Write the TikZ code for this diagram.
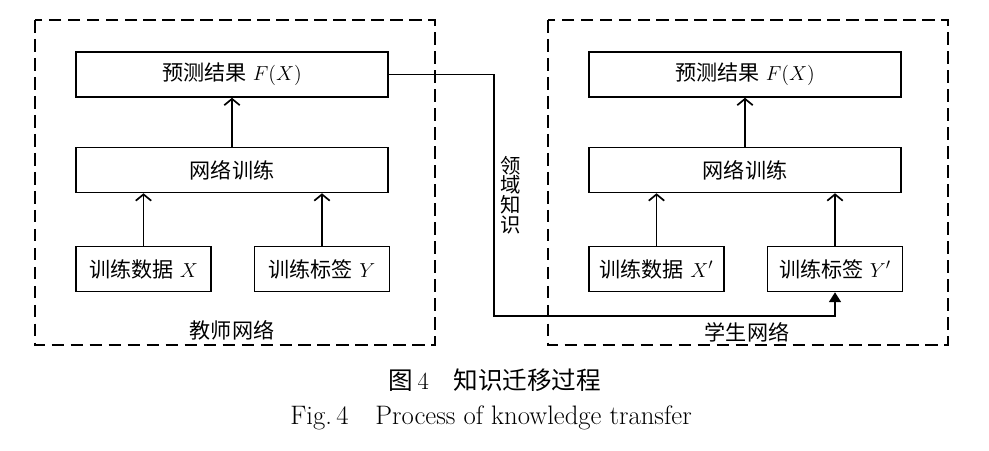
\documentclass[tikz,border=0pt]{standalone}
\usepackage{fontspec}
\newfontfamily\cjk{Noto Sans CJK SC}
\usetikzlibrary{arrows.meta}

\begin{document}
\begin{tikzpicture}[x=0.025cm, y=-0.025cm,
	blk/.style={draw, line width=1.1pt, inner sep=0pt, minimum height=1.125cm, font=\fontsize{15}{17}\selectfont},
	wide/.style={blk, minimum width=7.8cm},
	small/.style={blk, minimum width=3.375cm},
	frame/.style={draw, line width=1.6pt, dash pattern=on 9pt off 4.5pt},
	up/.style={-{Straight Barb[length=4.5pt,width=11pt]}, line width=1.2pt},
	tag/.style={font=\fontsize{15}{17}\selectfont\cjk}]

	\newcommand{\Off}{513}
	\useasboundingbox (0,0) rectangle (989,451);

	% teacher
	\draw[frame] (35,20) rectangle (435,345);
	\node[wide] (predT) at (232,74.5) {{\cjk 预测结果} $F(X)$};
	\node[wide] (trainT) at (232,170) {\cjk 网络训练};
	\node[small] (dataT) at (143.5,269) {{\cjk 训练数据} $X$};
	\node[small] (labT) at (322,269) {{\cjk 训练标签} $Y$};
	\node[tag] (nameT) at (232,330) {教师网络};

	\draw[up] (trainT) -- (predT);
	\draw[up] (dataT) -- (dataT |- trainT.south);
	\draw[up] (labT) -- (labT |- trainT.south);

	% student
	\draw[frame] (35+\Off,20) rectangle (435+\Off,345);
	\node[wide] (predS) at (232+\Off,74.5) {{\cjk 预测结果} $F(X)$};
	\node[wide] (trainS) at (232+\Off,170) {\cjk 网络训练};
	\node[small] (dataS) at (143.5+\Off,269) {{\cjk 训练数据} $X'$};
	\node[small] (labS) at (322+\Off,269) {{\cjk 训练标签} $Y'$};
	\node[tag] (nameS) at (234+\Off,332) {学生网络};

	\draw[up] (trainS) -- (predS);
	\draw[up] (dataS) -- (dataS |- trainS.south);
	\draw[up] (labS) -- (labS |- trainS.south);

	% knowledge
	\coordinate (bend) at (494,316);
	\draw[line width=1.2pt, -{Triangle[length=7pt,width=8.5pt]}] (predT.east) -| (bend) -| (labS.south);
	\node[tag, align=center, font=\fontsize{14.5}{14}\selectfont\cjk] (know) at (511,195) {领\\域\\知\\识};

	% caption
	\node[font=\fontsize{17.5}{19}\selectfont] (capA) at (495,380) {{\cjk 图}\,4\quad{\cjk 知识迁移过程}};
	\node[font=\fontsize{19}{21}\selectfont] (capB) at (491,418) {Fig.\,4\quad Process of knowledge transfer};
\end{tikzpicture}
\end{document}
